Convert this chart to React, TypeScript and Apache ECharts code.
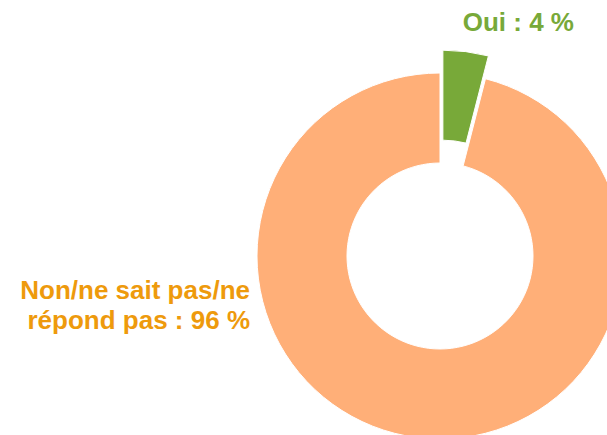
import React, { useEffect, useRef } from "react";
import * as echarts from "echarts";

const categories = ["Oui", "Non/ne sait pas/ne\nrépond pas"];
const values = [4, 96];
const sliceColors = ["#78A939", "#FFAF78"];
const labelColors = ["#78A939", "#EE9A0C"];

export default function App() {
  const ref = useRef<HTMLDivElement>(null);
  useEffect(() => {
    if (!ref.current) return;
    const chart = echarts.init(ref.current, null, { renderer: "svg" });
    const data = categories.map((name, i) => ({
      name,
      value: values[i],
      selected: i === 0,
      itemStyle: { color: sliceColors[i] },
    }));
    const labelPos = [
      { x: 574, y: 22 },
      { x: 250, y: 305 },
    ];
    const graphics = categories.map((name, i) => ({
      type: "text",
      x: labelPos[i].x,
      y: labelPos[i].y,
      style: {
        text: `${name} : ${values[i]} %`,
        fill: labelColors[i],
        font: "bold 26px 'Liberation Sans', Arial, sans-serif",
        lineHeight: 30,
        align: "right",
        verticalAlign: "middle",
      },
    }));
    chart.setOption({
      animation: false,
      backgroundColor: "#ffffff",
      graphic: graphics,
      series: [
        {
          type: "pie",
          center: [440, 256],
          radius: [93, 183],
          startAngle: 90,
          clockwise: true,
          selectedMode: "single",
          selectedOffset: 23,
          avoidLabelOverlap: false,
          emphasis: { disabled: true },
          itemStyle: { borderColor: "#ffffff", borderWidth: 1 },
          label: { show: false },
          labelLine: { show: false },
          data,
        },
      ],
    });
    return () => chart.dispose();
  }, []);
  return (
    <div
      ref={ref}
      style={{ position: "absolute", left: 0, top: 0, width: 607, height: 435 }}
    />
  );
}
